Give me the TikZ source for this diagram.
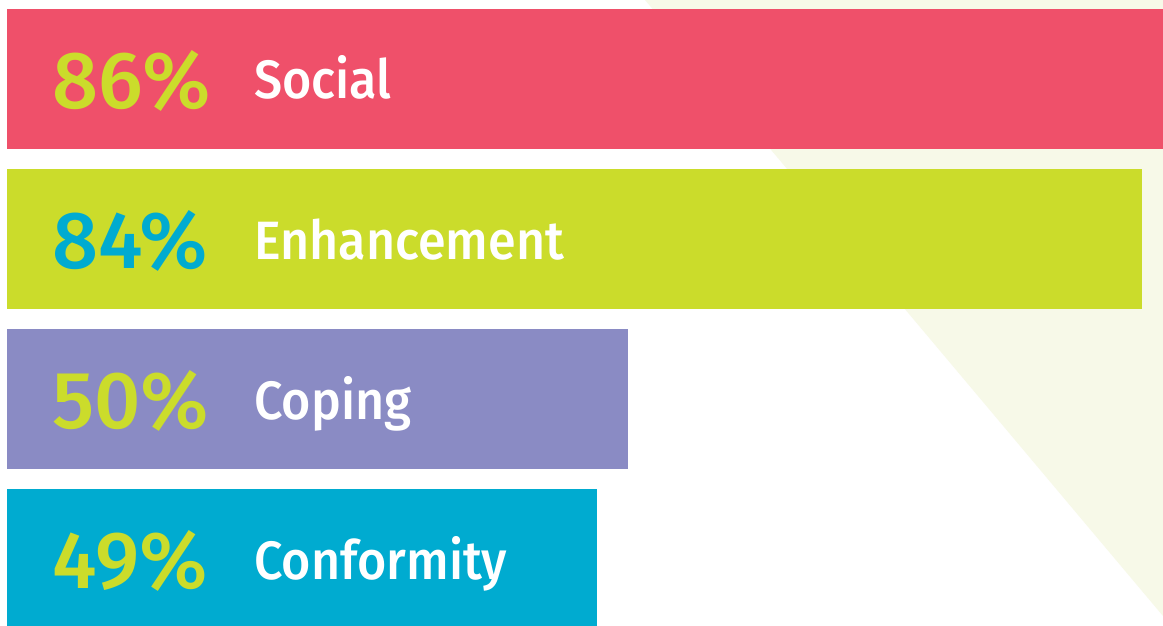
\documentclass[tikz,border=0pt]{standalone}
\usepackage{fontspec}
\setmainfont{Fira Sans Medium}
\newfontfamily\lblfont{Fira Sans Medium}[FakeStretch=0.93]
\definecolor{barred}{RGB}{239,80,106}
\definecolor{bargreen}{RGB}{203,220,43}
\definecolor{barpurple}{RGB}{138,139,196}
\definecolor{barcyan}{RGB}{0,171,208}
\definecolor{bgtri}{RGB}{247,249,232}
\begin{document}
\begin{tikzpicture}[x=1pt,y=-1pt,
  pct/.style={anchor=base west, inner sep=0pt, font=\fontsize{81}{81}\selectfont},
  lbl/.style={anchor=base west, inner sep=0pt, text=white, font=\lblfont\fontsize{54}{54}\selectfont}]
\useasboundingbox (0,0) rectangle (1163,626);
\fill[white] (0,0) rectangle (1163,626);
\fill[bgtri] (645,0) -- (1163,0) -- (1163,616) -- cycle;
\fill[barred] (7,9) rectangle (1163,149);
\fill[bargreen] (7,169) rectangle (1142,309);
\fill[barpurple] (7,329) rectangle (628,469);
\fill[barcyan] (7,489) rectangle (597,626);
\node[pct, text=bargreen] (p1) at (52,108) {86\%};
\node[lbl] (l1) at (254,99) {Social};
\node[pct, text=barcyan] (p2) at (52,268) {84\%};
\node[lbl] (l2) at (254,259) {Enhancement};
\node[pct, text=bargreen] (p3) at (52,428) {50\%};
\node[lbl] (l3) at (254,419) {Coping};
\node[pct, text=bargreen] (p4) at (52,588) {49\%};
\node[lbl] (l4) at (254,579) {Conformity};
\end{tikzpicture}
\end{document}
